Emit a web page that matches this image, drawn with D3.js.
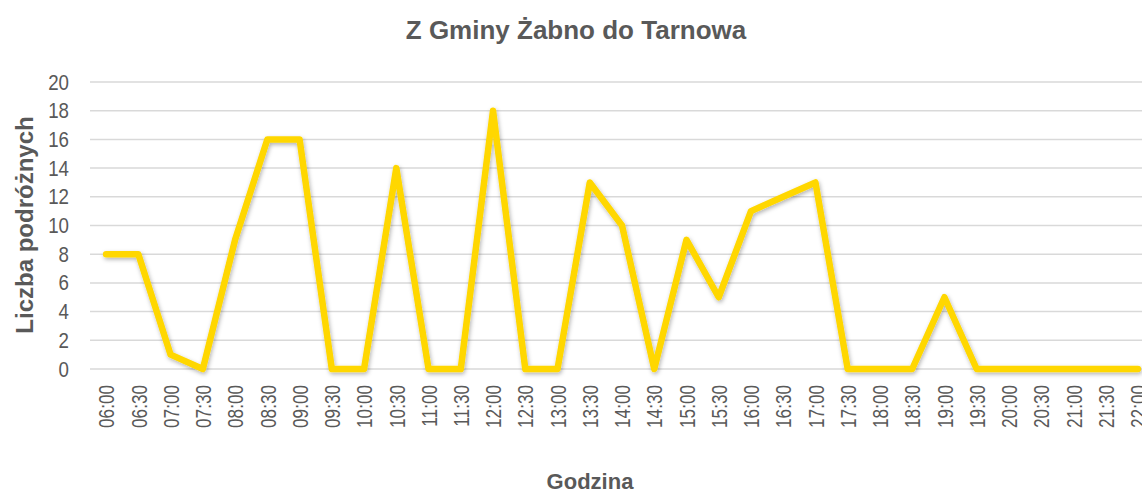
<!DOCTYPE html>
<html lang="pl">
<head>
    <meta charset="UTF-8">
    <title>Z Gminy Żabno do Tarnowa</title>
    <script src="https://cdnjs.cloudflare.com/ajax/libs/d3/7.8.5/d3.min.js"></script>
    <style>
        body { margin: 0; background: #fff; }
        .grid line { stroke: #d9d9d9; stroke-width: 1.5; }
        .tick text { fill: #595959; font-family: "Liberation Sans", Arial, sans-serif; }
    </style>
</head>
<body>
<svg id="chart" width="1142" height="495"></svg>
<script>
    var hours = ['06:00', '06:30', '07:00', '07:30', '08:00', '08:30', '09:00', '09:30', '10:00', '10:30',
        '11:00', '11:30', '12:00', '12:30', '13:00', '13:30', '14:00', '14:30', '15:00', '15:30',
        '16:00', '16:30', '17:00', '17:30', '18:00', '18:30', '19:00', '19:30', '20:00', '20:30',
        '21:00', '21:30', '22:00'];
    var travellers = [8, 8, 1, 0, 9, 16, 16, 0, 0, 14,
        0, 0, 18, 0, 0, 13, 10, 0, 9, 5,
        11, 12, 13, 0, 0, 0, 5, 0, 0, 0,
        0, 0, 0];
    var yTicks = [0, 2, 4, 6, 8, 10, 12, 14, 16, 18, 20];

    var svg = d3.select('#chart');
    var margin = {top: 82, left: 90};
    var plotW = 1064, plotH = 287;
    var narrowY = 0.85, narrowX = 0.78;

    var x = d3.scalePoint().domain(hours).range([0, plotW]).padding(0.5);
    var y = d3.scaleLinear().domain([0, 20]).range([plotH, 0]);

    var vis = svg.append('g')
        .attr('transform', 'translate(' + margin.left + ',' + margin.top + ')');

    // gridlines
    vis.append('g')
        .attr('class', 'grid')
        .selectAll('line')
        .data(yTicks)
        .enter()
        .append('line')
        .attr('x1', 0)
        .attr('x2', plotW)
        .attr('y1', function (d) { return y(d); })
        .attr('y2', function (d) { return y(d); });

    // y axis (narrow look like Arial Narrow)
    var yAxis = vis.append('g')
        .call(d3.axisLeft(y).tickValues(yTicks).tickSize(0));
    yAxis.select('.domain').remove();
    yAxis.selectAll('text')
        .style('font-size', '22px')
        .attr('x', -21 / narrowY)
        .attr('transform', 'scale(' + narrowY + ',1)');

    // x axis
    var xAxis = vis.append('g')
        .attr('transform', 'translate(0,' + plotH + ')')
        .call(d3.axisBottom(x).tickSize(0));
    xAxis.select('.domain').remove();
    xAxis.selectAll('text')
        .style('font-size', '22px')
        .attr('text-anchor', 'end')
        .attr('dy', '0.35em')
        .attr('transform', 'translate(0,16) rotate(-90) scale(' + narrowX + ',1)')
        .attr('x', 0)
        .attr('y', 0);

    // shadow
    var defs = svg.append('defs');
    var f = defs.append('filter').attr('id', 'shadow')
        .attr('x', '-5%').attr('y', '-10%').attr('width', '110%').attr('height', '120%');
    f.append('feDropShadow').attr('dx', 1).attr('dy', 2).attr('stdDeviation', 2)
        .attr('flood-color', '#000').attr('flood-opacity', 0.3);

    var line = d3.line()
        .x(function (d, i) { return x(hours[i]); })
        .y(function (d) { return y(d); });

    vis.append('path')
        .datum(travellers)
        .attr('d', line)
        .attr('fill', 'none')
        .attr('stroke', '#ffd700')
        .attr('stroke-width', 6.5)
        .attr('stroke-linejoin', 'round')
        .attr('stroke-linecap', 'round')
        .attr('filter', 'url(#shadow)');

    // titles
    svg.append('text')
        .attr('x', 576)
        .attr('y', 39)
        .attr('text-anchor', 'middle')
        .style('font-family', '"Liberation Sans", Arial, sans-serif')
        .style('font-weight', 'bold')
        .style('font-size', '26px')
        .style('fill', '#595959')
        .text('Z Gminy Żabno do Tarnowa');

    svg.append('text')
        .attr('transform', 'translate(33,225) rotate(-90)')
        .attr('text-anchor', 'middle')
        .style('font-family', '"Liberation Sans", Arial, sans-serif')
        .style('font-weight', 'bold')
        .style('font-size', '24px')
        .style('fill', '#595959')
        .text('Liczba podróżnych');

    svg.append('text')
        .attr('x', 590)
        .attr('y', 489)
        .attr('text-anchor', 'middle')
        .style('font-family', '"Liberation Sans", Arial, sans-serif')
        .style('font-weight', 'bold')
        .style('font-size', '22px')
        .style('fill', '#595959')
        .text('Godzina');
</script>
</body>
</html>
